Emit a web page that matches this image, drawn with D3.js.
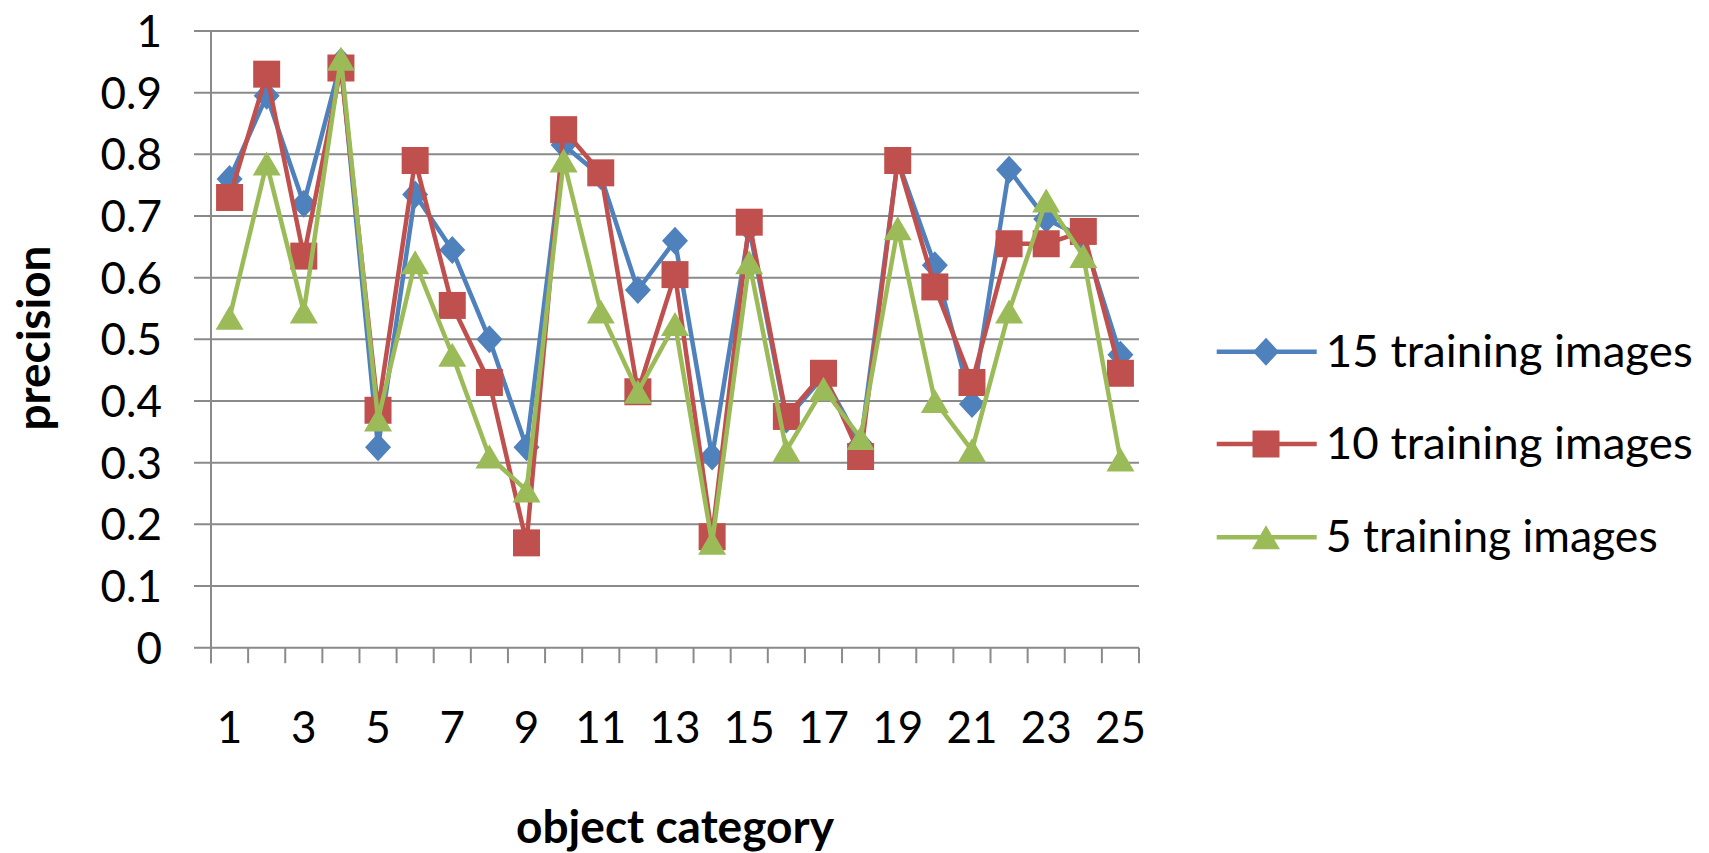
<!DOCTYPE html>
<html>
<head>
<meta charset="utf-8">
<script src="https://cdn.jsdelivr.net/npm/d3@7"></script>
<style>
  html, body { margin: 0; padding: 0; background: #fff; }
  svg { display: block; }
  text { font-family: Lato, "Open Sans", sans-serif; fill: #000; }
</style>
</head>
<body>
<svg id="chart" width="1709" height="853"></svg>
<script>
// Precision per object category for three training-set sizes
const categories = [1,2,3,4,5,6,7,8,9,10,11,12,13,14,15,16,17,18,19,20,21,22,23,24,25];
const train15 = [0.76,0.895,0.72,0.95,0.325,0.735,0.645,0.50,0.325,0.815,0.765,0.58,0.66,0.31,0.68,0.37,0.44,0.33,0.79,0.62,0.395,0.775,0.695,0.665,0.475];
const train10 = [0.73,0.93,0.635,0.94,0.385,0.79,0.555,0.43,0.17,0.84,0.77,0.415,0.605,0.18,0.69,0.375,0.445,0.31,0.79,0.585,0.43,0.655,0.655,0.675,0.445];
const train5  = [0.535,0.785,0.545,0.955,0.37,0.625,0.475,0.31,0.255,0.79,0.545,0.415,0.525,0.17,0.625,0.32,0.42,0.34,0.68,0.40,0.32,0.545,0.725,0.635,0.305];
const yTicks = [0,0.1,0.2,0.3,0.4,0.5,0.6,0.7,0.8,0.9,1];
const xTickLabels = [1,3,5,7,9,11,13,15,17,19,21,23,25];
const seriesNames = ["15 training images","10 training images","5 training images"];

const series = [
  {name: seriesNames[0], values: train15, color: "#4F81BD", shape: "diamond"},
  {name: seriesNames[1], values: train10, color: "#C0504D", shape: "square"},
  {name: seriesNames[2], values: train5,  color: "#9BBB59", shape: "triangle"}
];

const svg = d3.select("#chart");
const plot = {left: 211, right: 1139, top: 31, bottom: 647.7};

const x = d3.scaleBand().domain(categories).range([plot.left, plot.right]).padding(0);
const cx = c => x(c) + x.bandwidth() / 2;
const y = d3.scaleLinear().domain([0, 1]).range([plot.bottom, plot.top]);

const gridColor = "#8a8a8a";

// horizontal gridlines with the left-hand tick marks
svg.append("g").selectAll("line").data(yTicks).join("line")
  .attr("x1", plot.left - 17).attr("x2", plot.right)
  .attr("y1", d => y(d)).attr("y2", d => y(d))
  .attr("stroke", gridColor).attr("stroke-width", 2);

// value axis line
svg.append("line")
  .attr("x1", plot.left).attr("x2", plot.left)
  .attr("y1", plot.top).attr("y2", plot.bottom + 15.5)
  .attr("stroke", gridColor).attr("stroke-width", 2);

// category tick marks sit between categories
const boundaries = categories.map(c => x(c)).concat([plot.right]);
svg.append("g").selectAll("line").data(boundaries).join("line")
  .attr("x1", d => d).attr("x2", d => d)
  .attr("y1", plot.bottom).attr("y2", plot.bottom + 15.5)
  .attr("stroke", gridColor).attr("stroke-width", 2);

// y tick labels
svg.append("g").selectAll("text").data(yTicks).join("text")
  .attr("x", 162).attr("y", d => y(d))
  .attr("dy", "0.36em")
  .attr("text-anchor", "end")
  .style("font-size", "44px")
  .text(d => d3.format("")(d));

// x tick labels (every other category)
svg.append("g").selectAll("text").data(xTickLabels).join("text")
  .attr("x", d => cx(d)).attr("y", 742.7)
  .attr("text-anchor", "middle")
  .style("font-size", "44px")
  .text(d => d);

// axis titles
svg.append("text")
  .attr("transform", "translate(50,338) rotate(-90)")
  .attr("text-anchor", "middle")
  .attr("textLength", 185).attr("lengthAdjust", "spacingAndGlyphs")
  .style("font-size", "45px").style("font-weight", "bold")
  .text("precision");

svg.append("text")
  .attr("x", (plot.left + plot.right) / 2).attr("y", 843)
  .attr("text-anchor", "middle")
  .attr("textLength", 318).attr("lengthAdjust", "spacingAndGlyphs")
  .style("font-size", "45px").style("font-weight", "bold")
  .text("object category");

// marker shapes
function markerPath(shape) {
  if (shape === "diamond") return "M0,-14L13,0L0,14L-13,0Z";
  if (shape === "square") return "M-13.5,-13.5H13.5V13.5H-13.5Z";
  return "M0,-12L14,12H-14Z";
}

const line = d3.line().x((d, i) => cx(categories[i])).y(d => y(d));

series.forEach(s => {
  const g = svg.append("g");
  g.append("path").datum(s.values)
    .attr("d", line)
    .attr("fill", "none")
    .attr("stroke", s.color)
    .attr("stroke-width", 4.5)
    .attr("stroke-linejoin", "round");
  g.selectAll("path.m").data(s.values).join("path")
    .attr("class", "m")
    .attr("transform", (d, i) => `translate(${cx(categories[i])},${y(d)})`)
    .attr("d", markerPath(s.shape))
    .attr("fill", s.color);
});

// legend
const legendRows = [351.7, 444, 537.3];
const legendWidths = [367, 367, 332];
series.forEach((s, i) => {
  const g = svg.append("g").attr("transform", `translate(0,${legendRows[i]})`);
  g.append("line").attr("x1", 1216.7).attr("x2", 1316.7)
    .attr("y1", 0).attr("y2", 0)
    .attr("stroke", s.color).attr("stroke-width", 4.5);
  g.append("path").attr("transform", "translate(1266,0)")
    .attr("d", markerPath(s.shape)).attr("fill", s.color);
  g.append("text").attr("x", 1325.7).attr("y", 15)
    .attr("textLength", legendWidths[i]).attr("lengthAdjust", "spacingAndGlyphs")
    .style("font-size", "44px")
    .text(s.name);
});
</script>
</body>
</html>
